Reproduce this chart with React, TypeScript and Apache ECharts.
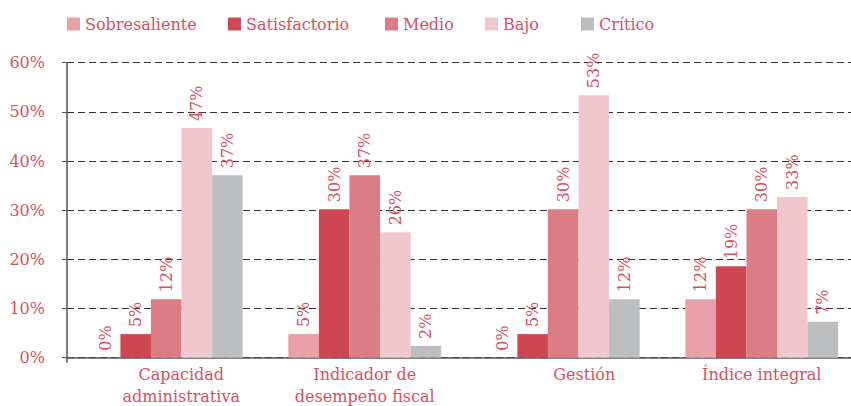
import React, { useEffect, useRef } from "react";
import * as echarts from "echarts";

const categories = ["Capacidad\nadministrativa", "Indicador de\ndesempeño fiscal", "Gestión", "Índice integral"];
const seriesNames = ["Sobresaliente", "Satisfactorio", "Medio", "Bajo", "Crítico"];
const sobresaliente = [0, 4.8, 0, 11.9];
const satisfactorio = [4.8, 30.2, 4.8, 18.6];
const medio = [11.9, 37.1, 30.2, 30.2];
const bajo = [46.7, 25.5, 53.4, 32.7];
const critico = [37.1, 2.4, 11.9, 7.3];
const yTicks = [0, 10, 20, 30, 40, 50, 60];

const colors = ["#e8a1a9", "#d04754", "#dc7c85", "#f0c7cc", "#bdbec0"];
const textColor = "#d9505f";
const font = "DejaVu Serif";
const legendLefts = [67, 228, 385, 485, 581];
const labelShift = [30, 0, 42, 0];

export default function App() {
  const ref = useRef<HTMLDivElement>(null);
  useEffect(() => {
    if (!ref.current) return;
    const chart = echarts.init(ref.current, undefined, { renderer: "svg" });
    const values = [sobresaliente, satisfactorio, medio, bajo, critico];
    chart.setOption({
      animation: false,
      color: colors,
      textStyle: { fontFamily: font },
      legend: seriesNames.map((n, i) => ({
        data: [n],
        left: legendLefts[i],
        top: 16,
        padding: 0,
        itemWidth: 13,
        itemHeight: 13,
        itemGap: 0,
        icon: "rect",
        textStyle: { color: textColor, fontSize: 16, fontFamily: font },
      })),
      grid: { left: 67, right: -10, top: 62.7, bottom: 48.3, containLabel: false, outerBoundsMode: "none" },
      xAxis: {
        type: "category",
        data: categories.map((c, i) => ({ value: c, textStyle: { padding: [0, 0, 0, labelShift[i]] } })),
        axisLine: { show: true, lineStyle: { color: "#555", width: 1.5 } },
        axisTick: { show: true, length: 5, interval: (i: number) => i === 0, lineStyle: { color: "#555", width: 1.5 } },
        axisLabel: { color: textColor, fontSize: 16, fontFamily: font, margin: 6, lineHeight: 22 },
      },
      yAxis: {
        type: "value",
        min: yTicks[0],
        max: yTicks[yTicks.length - 1],
        interval: 10,
        axisLine: { show: true, lineStyle: { color: "#555", width: 1.5 } },
        axisTick: { show: true, length: 5, lineStyle: { color: "#555" } },
        axisLabel: {
          color: textColor,
          fontSize: 16,
          fontFamily: font,
          margin: 22,
          padding: [6, 0, 0, 0],
          formatter: (v: number) => v + "%",
        },
        splitLine: { show: true, lineStyle: { color: "#333", type: [7, 4], width: 1 } },
      },
      series: seriesNames.map((n, i) => ({
        name: n,
        type: "bar",
        data: values[i],
        barGap: "0%",
        barCategoryGap: "23%",
        label: {
          show: true,
          position: "top",
          rotate: 90,
          align: "left",
          verticalAlign: "middle",
          distance: 7,
          color: textColor,
          fontSize: 16,
          fontFamily: font,
          formatter: (p: any) => Math.round(p.value) + "%",
        },
      })),
    });
    return () => chart.dispose();
  }, []);
  return <div ref={ref} style={{ position: "absolute", left: 0, top: 0, width: 851, height: 406 }} />;
}
